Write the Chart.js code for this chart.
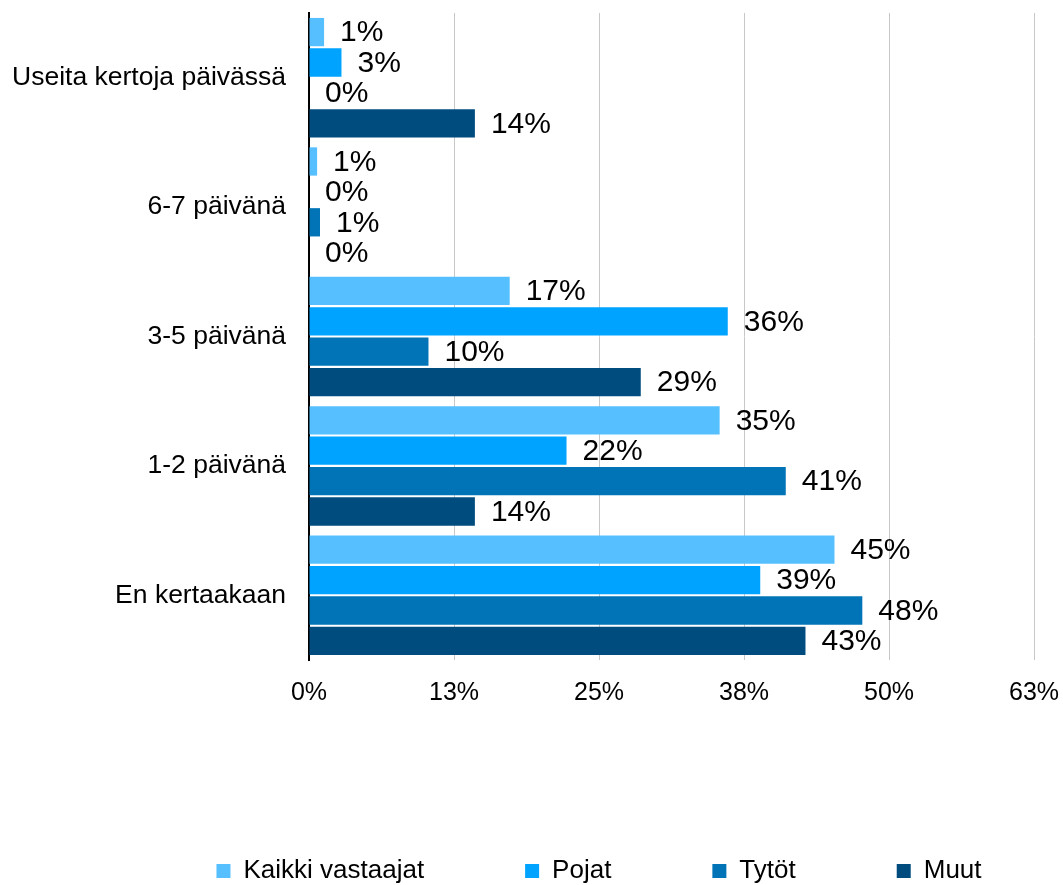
<!DOCTYPE html>
<html>
<head>
<meta charset="utf-8">
<script src="https://cdn.jsdelivr.net/npm/chart.js@4"></script>
<style>
  html, body { margin: 0; padding: 0; background: #fff; }
  #wrap { width: 1063px; height: 885px; }
</style>
</head>
<body>
<div id="wrap"><canvas id="chart" width="1063" height="885"></canvas></div>
<script>
// categories, top to bottom
const categories = [
  'Useita kertoja päivässä',
  '6-7 päivänä',
  '3-5 päivänä',
  '1-2 päivänä',
  'En kertaakaan',
];

// shares in percent
const kaikki = [1.3, 0.7, 17.3, 35.4, 45.3];
const pojat = [2.8, 0, 36.1, 22.2, 38.9];
const tytot = [0, 0.95, 10.3, 41.1, 47.7];
const muut = [14.3, 0, 28.6, 14.3, 42.8];

const seriesNames = ['Kaikki vastaajat', 'Pojat', 'Tytöt', 'Muut'];
const seriesColors = ['#55bfff', '#00a3ff', '#0074b6', '#004c7f'];

const xTicks = [0, 12.5, 25, 37.5, 50, 62.5];

const font = "'Liberation Sans', Arial, sans-serif";

// values next to the bar ends
const barLabels = {
  id: 'barLabels',
  afterDatasetsDraw(chart) {
    const ctx = chart.ctx;
    ctx.save();
    ctx.font = '30px ' + font;
    ctx.fillStyle = '#000';
    ctx.textAlign = 'left';
    ctx.textBaseline = 'middle';
    chart.data.datasets.forEach((ds, i) => {
      const meta = chart.getDatasetMeta(i);
      meta.data.forEach((bar, j) => {
        ctx.fillText(Math.round(ds.data[j]) + '%', bar.x + 16, bar.y + 1);
      });
    });
    ctx.restore();
  },
};

// the legend row sits right of centre in the original
const legendShift = {
  id: 'legendShift',
  afterLayout(chart) {
    chart.legend.left += 82;
    chart.legend.right += 82;
  },
};

const datasets = [kaikki, pojat, tytot, muut].map((values, i) => ({
  label: seriesNames[i],
  data: values,
  backgroundColor: seriesColors[i],
  borderWidth: 0,
  categoryPercentage: 0.94,
  barPercentage: 0.93,
}));

new Chart(document.getElementById('chart'), {
  type: 'bar',
  data: { labels: categories, datasets: datasets },
  plugins: [barLabels, legendShift],
  options: {
    indexAxis: 'y',
    responsive: false,
    animation: false,
    layout: { padding: { top: 13, right: 29, bottom: -9, left: 0 } },
    plugins: {
      tooltip: { enabled: false },
      legend: {
        position: 'bottom',
        labels: {
          boxWidth: 14,
          boxHeight: 14,
          padding: 101,
          color: '#000',
          font: { family: font, size: 26 },
        },
      },
    },
    scales: {
      x: {
        min: 0,
        max: 62.5,
        afterBuildTicks: (scale) => {
          scale.ticks = xTicks.map((v) => ({ value: v }));
        },
        afterFit: (scale) => {
          scale.height = 97;
          scale.paddingLeft = 0;
          scale.paddingRight = 0;
        },
        grid: { color: '#c8c8c8', lineWidth: 1, drawTicks: false },
        border: { display: false },
        ticks: {
          padding: 18,
          color: '#000',
          font: { family: font, size: 25 },
          callback: (v) => Math.round(v) + '%',
        },
      },
      y: {
        afterFit: (scale) => {
          scale.width = 309;
          scale.paddingTop = 0;
          scale.paddingBottom = 0;
        },
        grid: { display: false, drawTicks: false },
        border: { display: true, color: '#000', width: 2 },
        ticks: {
          padding: 23,
          color: '#000',
          font: { family: font, size: 26.5 },
        },
      },
    },
  },
});
</script>
</body>
</html>
